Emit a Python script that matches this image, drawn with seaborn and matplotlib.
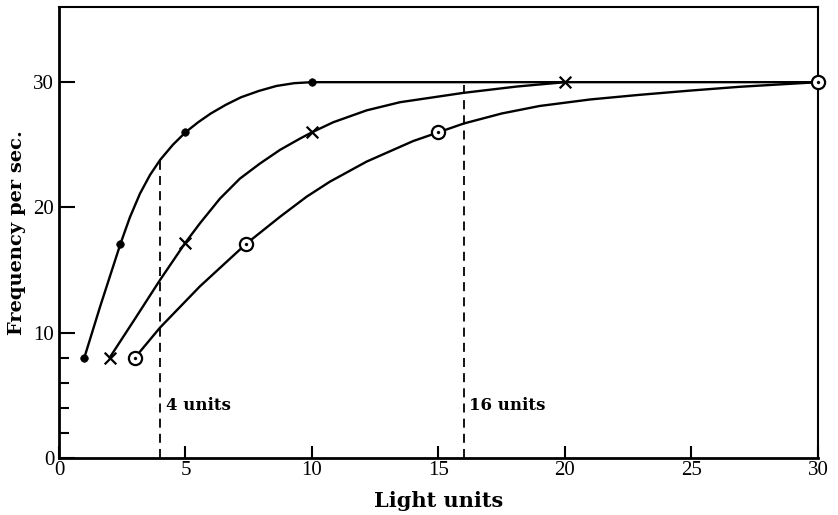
import numpy as np
import pandas as pd
import matplotlib
matplotlib.use("Agg")
import matplotlib.pyplot as plt
import seaborn as sns

# ---- measured points (markers) ----
dot_x = [1, 2.43, 5, 10]
dot_y = [8, 17.1, 26, 30]
cross_x = [2, 5, 10, 20]
cross_y = [8, 17.2, 26, 30]
ring_x = [3, 7.4, 15, 30]
ring_y = [8, 17.1, 26, 30]

# ---- smooth curves ----
curve_dot_x = [1.62, 2.8, 3.2, 3.6, 4.0, 4.5, 5.5, 6.0, 6.6, 7.2, 7.9, 8.6, 9.3, 30]
curve_dot_y = [12.05, 19.2, 21.1, 22.6, 23.8, 25.0, 26.8, 27.5, 28.2, 28.8, 29.3, 29.7, 29.92, 30]
curve_cross_x = [3.0, 3.99, 5.57, 6.36, 7.15, 7.94, 8.74, 9.53, 10.84, 12.16, 13.48, 16.0, 18.09]
curve_cross_y = [11.1, 14.2, 18.73, 20.7, 22.3, 23.5, 24.6, 25.5, 26.8, 27.75, 28.4, 29.15, 29.65]
curve_ring_x = [3.99, 5.57, 8.74, 9.79, 10.71, 12.16, 14.0, 16.0, 17.5, 19.0, 21.0, 22.9, 24.9, 26.9]
curve_ring_y = [10.4, 13.7, 19.26, 20.86, 22.06, 23.66, 25.3, 26.7, 27.5, 28.1, 28.62, 28.98, 29.32, 29.63]

# ---- reference lines ----
ref_x = [4, 16]
ref_top = [23.8, 30]
ref_labels = ["4 units", "16 units"]

x_ticks = [0, 5, 10, 15, 20, 25, 30]
y_major = [0, 10, 20, 30]
y_minor = [2, 4, 6, 8]

sns.set_theme(style="white")
plt.rcParams["font.family"] = ["DejaVu Serif"]
plt.rcParams["text.color"] = "black"
plt.rcParams["axes.labelcolor"] = "black"
plt.rcParams["xtick.color"] = "black"
plt.rcParams["ytick.color"] = "black"

fig = plt.figure(figsize=(8.38, 5.15), dpi=100)
ax = fig.add_axes([0.0704, 0.1107, 0.9057, 0.8757])


def curve_frame(mx, my, cx, cy):
    df = pd.DataFrame({"x": list(mx) + list(cx), "y": list(my) + list(cy)})
    return df.sort_values("x").reset_index(drop=True)


for mx, my, cx, cy in [
    (dot_x, dot_y, curve_dot_x, curve_dot_y),
    (cross_x, cross_y, curve_cross_x, curve_cross_y),
    (ring_x, ring_y, curve_ring_x, curve_ring_y),
]:
    d = curve_frame(mx, my, cx, cy)
    sns.lineplot(data=d, x="x", y="y", estimator=None, sort=False, color="black",
                 linewidth=1.7, ax=ax, zorder=2)

# dashed reference lines
ax.vlines(ref_x, [0, 0], ref_top, colors="black", linestyles=(0, (5.0, 3.4)),
          linewidth=1.3, zorder=1)
for xv, lab in zip(ref_x, ref_labels):
    ax.text(xv + 0.22, 3.85, lab, fontsize=12, fontweight="bold", color="black",
            family="DejaVu Serif", ha="left", va="baseline")

# markers
sns.scatterplot(x=dot_x, y=dot_y, marker="o", s=30, color="black",
                edgecolor="black", ax=ax, zorder=4, clip_on=False)
sns.scatterplot(x=cross_x, y=cross_y, marker="x", s=70, color="black",
                linewidth=1.6, ax=ax, zorder=4, clip_on=False)
sns.scatterplot(x=ring_x, y=ring_y, marker="o", s=90, facecolor="white",
                edgecolor="black", linewidth=1.6, ax=ax, zorder=4, clip_on=False)
sns.scatterplot(x=ring_x, y=ring_y, marker="o", s=5, color="black",
                edgecolor="black", ax=ax, zorder=5, clip_on=False)

ax.set_xlim(0, 30)
ax.set_ylim(0, 36)

ax.set_xticks(x_ticks)
ax.set_xticklabels([str(t) for t in x_ticks], family="Liberation Serif", fontsize=15)
ax.set_yticks(y_major)
ax.set_yticklabels([str(t) for t in y_major], family="Liberation Serif", fontsize=15)
ax.set_yticks(y_minor, minor=True)

ax.tick_params(axis="x", which="major", direction="in", length=9, width=1.5,
               pad=2, colors="black", bottom=True)
ax.tick_params(axis="y", which="major", direction="in", length=11.5, width=1.5,
               pad=3.5, colors="black", left=True)
ax.tick_params(axis="y", which="minor", direction="in", length=7, width=1.5,
               left=True, colors="black")

for side in ["left", "bottom"]:
    ax.spines[side].set_linewidth(2.0)
for side in ["top", "right"]:
    ax.spines[side].set_linewidth(1.5)
for sp in ax.spines.values():
    sp.set_color("black")
    sp.set_visible(True)

ax.set_xlabel("Light units", fontsize=15, fontweight="bold", family="DejaVu Serif",
              labelpad=8, color="black")
ax.set_ylabel("Frequency per sec.", fontsize=14, fontweight="bold",
              family="DejaVu Serif", labelpad=5, color="black")
ax.grid(False)
ax.set_facecolor("white")
fig.patch.set_facecolor("white")

fig.savefig("out.png", dpi=100, facecolor="white")
